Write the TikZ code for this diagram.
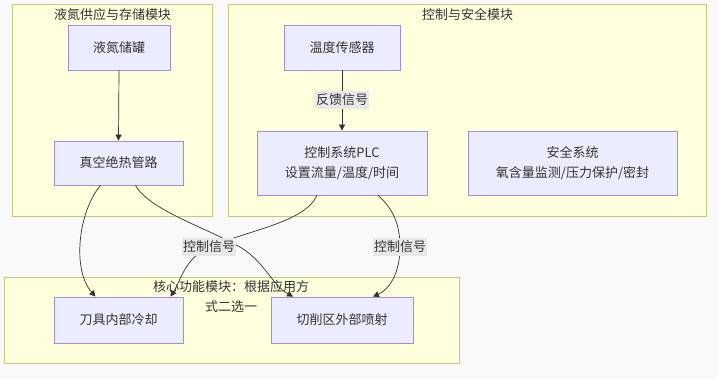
\documentclass[tikz,border=0pt]{standalone}
\usepackage{fontspec}
\setmainfont{Noto Sans CJK SC}
\usetikzlibrary{arrows.meta,calc}
\definecolor{bgc}{HTML}{F9F9F9}
\definecolor{clfill}{HTML}{FFFFDE}
\definecolor{clline}{HTML}{C8C87A}
\definecolor{ndfill}{HTML}{ECECFF}
\definecolor{ndline}{HTML}{A48BDB}
\definecolor{edc}{HTML}{333333}
\definecolor{lbfill}{HTML}{E8E8E8}
\tikzset{
  cluster/.style={draw=clline,fill=clfill,line width=0.8pt,rectangle,inner sep=0pt},
  cltitle/.style={font=\fontsize{13}{20}\selectfont,text=edc,align=center,inner sep=0pt},
  box/.style={draw=ndline,fill=ndfill,line width=0.8pt,rectangle,inner sep=0pt,
    font=\fontsize{13}{20}\selectfont,text=edc,align=center},
  edge/.style={draw=edc,line width=0.7pt,-{Triangle[length=6pt,width=6pt]}},
  elabel/.style={fill=lbfill,inner xsep=1pt,inner ysep=3pt,font=\fontsize{13}{16}\selectfont,text=edc}
}
\begin{document}
\begin{tikzpicture}[x=1pt,y=-1pt]
\fill[bgc] (0,0) rectangle (718,379);
\useasboundingbox (0,0) rectangle (718,379);
% clusters
\node[cluster,minimum width=200pt,minimum height=212pt] (c1) at (112.5,110.5) {};
\node[cluster,minimum width=478pt,minimum height=212pt] (c2) at (467,110.5) {};
\node[cluster,minimum width=455pt,minimum height=86pt] (c3) at (231.5,320) {};
\node[cltitle] (t1) at (112.5,15) {液氮供应与存储模块};
\node[cltitle] (t2) at (467.5,15) {控制与安全模块};
% nodes
\node[box,minimum width=102pt,minimum height=45pt] (tank) at (119,47.5) {液氮储罐};
\node[box,minimum width=129pt,minimum height=44pt] (pipe) at (118.5,163) {真空绝热管路};
\node[box,minimum width=116pt,minimum height=45pt] (sens) at (342,47.5) {温度传感器};
\node[box,minimum width=170pt,minimum height=64pt] (plc) at (342,163) {控制系统PLC\\设置流量/温度/时间};
\node[box,minimum width=209pt,minimum height=64pt] (safe) at (572.5,163) {安全系统\\氧含量监测/压力保护/密封};
\node[box,minimum width=129pt,minimum height=46pt] (tool) at (118.5,320) {刀具内部冷却};
\node[box,minimum width=142pt,minimum height=46pt] (spray) at (342,320) {切削区外部喷射};
% edges
\draw[edge] (tank.south) -- (pipe.north);
\draw[edge] (sens.south) -- (plc.north);
\draw[edge] ([xshift=-18pt]pipe.south) .. controls (78,212) and (72,270) .. ([xshift=-23pt]tool.north);
\draw[edge] ([xshift=17pt]pipe.south) .. controls (150,210) and (200,225) .. (240,247) .. controls (265,262) and (272,285) .. ([xshift=-49pt]spray.north);
\draw[edge] ([xshift=-25pt]plc.south) .. controls (305,222) and (250,230) .. (209,247) .. controls (185,258) and (180,282) .. ([xshift=52pt]tool.north);
\draw[edge] ([xshift=36pt]plc.south) .. controls (395,210) and (400,228) .. (400,247) .. controls (400,275) and (388,290) .. ([xshift=31pt]spray.north);
% cluster 3 title over edges
\node[cltitle] (t3) at (231,297) {核心功能模块：根据应用方\\式二选一};
% edge labels
\node[elabel] (l1) at (342,100) {反馈信号};
\node[elabel] (l2) at (209,247) {控制信号};
\node[elabel] (l3) at (400,247) {控制信号};
\end{tikzpicture}
\end{document}
